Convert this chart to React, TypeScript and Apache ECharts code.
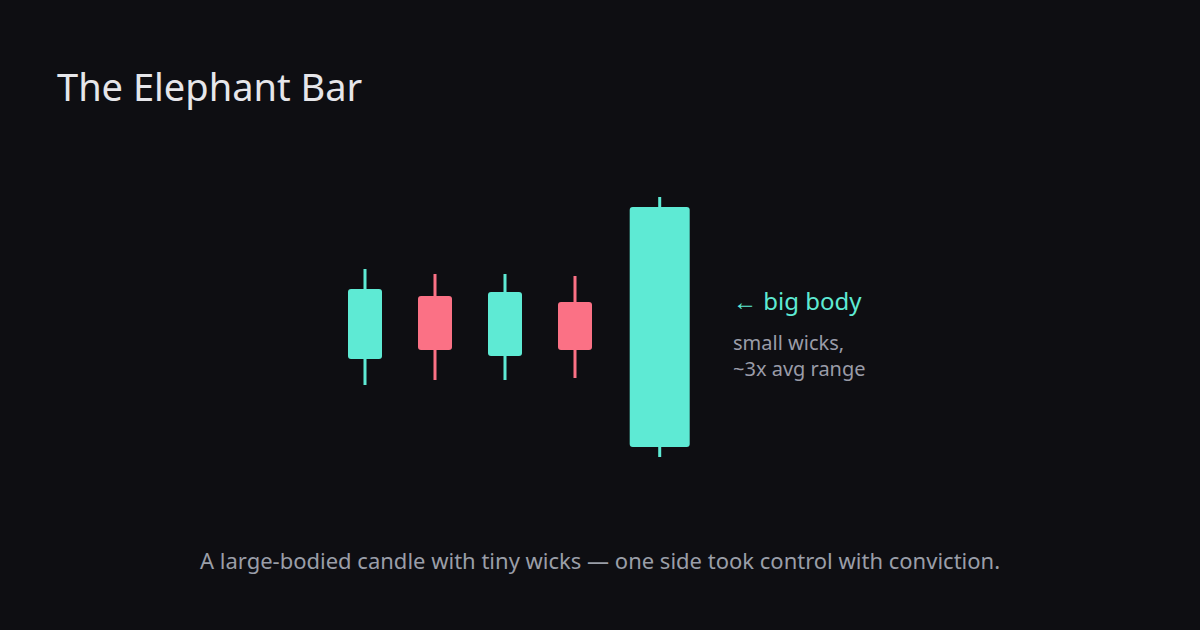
import React, { useEffect, useRef } from "react";
import * as echarts from "echarts";

// Candle positions (index units) and OHLC values
const candleX = [0, 1, 2, 3, 4.21];
const opens = [60.5, 92, 62, 89, 16.5];
const closes = [95.5, 65, 94, 65, 136.5];
const lows = [47.5, 50, 50, 51, 11.5];
const highs = [105.5, 103, 103, 102, 141.5];

const TITLE = "The Elephant Bar";
const NOTE_MAIN = "← big body";
const NOTE_SUB = ["small wicks,", "~3x avg range"];
const CAPTION = "A large-bodied candle with tiny wicks — one side took control with conviction.";

const BG = "#0e0e12";
const UP = "#5eead4";
const DOWN = "#fb7185";
const FONT = "'Noto Sans', 'Open Sans', sans-serif";

export default function App() {
  const ref = useRef<HTMLDivElement>(null);
  useEffect(() => {
    document.body.style.margin = "0";
    document.body.style.background = BG;
    const chart = echarts.init(ref.current!, null, { renderer: "svg" });
    const data = candleX.map((x, i) => [x, opens[i], closes[i], lows[i], highs[i]]);
    const last = data.length - 1;
    chart.setOption({
      animation: false,
      backgroundColor: BG,
      grid: { left: 15, right: 135, top: 180, bottom: 150 },
      xAxis: { type: "value", min: -5, max: 10, show: false },
      yAxis: { type: "value", min: 0, max: 150, show: false },
      series: [
        {
          type: "custom",
          data,
          encode: { x: 0, y: [1, 2, 3, 4] },
          renderItem: (params: any, api: any) => {
            const x = api.value(0);
            const o = api.value(1);
            const c = api.value(2);
            const l = api.value(3);
            const h = api.value(4);
            const pO = api.coord([x, o]);
            const pC = api.coord([x, c]);
            const pL = api.coord([x, l]);
            const pH = api.coord([x, h]);
            const w = params.dataIndex === last ? 60 : 34;
            const color = c >= o ? UP : DOWN;
            const top = Math.min(pO[1], pC[1]);
            const bot = Math.max(pO[1], pC[1]);
            return {
              type: "group",
              children: [
                {
                  type: "rect",
                  shape: { x: pO[0] - 1.5, y: pH[1], width: 3, height: pL[1] - pH[1] },
                  style: { fill: color },
                },
                {
                  type: "rect",
                  shape: { x: pO[0] - w / 2, y: top, width: w, height: bot - top, r: 3 },
                  style: { fill: color },
                },
              ],
            };
          },
        },
      ],
      graphic: [
        {
          type: "text",
          x: 57,
          y: 86,
          style: { text: TITLE, fill: "#e6e6ea", font: `38px ${FONT}`, verticalAlign: "middle" },
        },
        {
          type: "text",
          x: 733,
          y: 300,
          style: { text: NOTE_MAIN, fill: UP, font: `24px ${FONT}`, verticalAlign: "middle" },
        },
        {
          type: "text",
          x: 733,
          y: 342,
          style: { text: NOTE_SUB[0], fill: "#9a9ca8", font: `20px ${FONT}`, verticalAlign: "middle" },
        },
        {
          type: "text",
          x: 733,
          y: 368,
          style: { text: NOTE_SUB[1], fill: "#9a9ca8", font: `20px ${FONT}`, verticalAlign: "middle" },
        },
        {
          type: "text",
          x: 600,
          y: 560,
          style: { text: CAPTION, fill: "#9a9ea8", font: `22px ${FONT}`, align: "center", verticalAlign: "middle" },
        },
      ],
    });
    return () => chart.dispose();
  }, []);
  return <div ref={ref} style={{ width: 1200, height: 630 }} />;
}
